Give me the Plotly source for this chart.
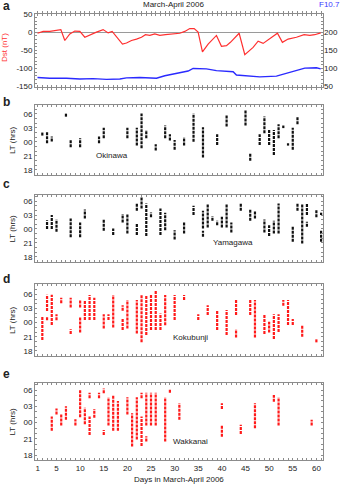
import plotly.graph_objects as go

# ---------------- data ----------------
dst_day = [0.98, 2.18, 3.59, 5.0, 5.92, 6.76, 7.82, 8.88, 9.94, 10.99, 12.05, 13.46, 14.87, 15.93,
           16.78, 18.96, 19.81, 20.87, 21.93, 22.98, 23.83, 24.75, 25.80, 26.86, 28.06, 29.33,
           31.09, 32.15, 33.21, 34.13, 34.97, 35.89, 37.09, 38.85, 39.91, 40.97, 41.81, 43.65,
           44.85, 46.61, 47.67, 48.73, 50.0, 51.76, 52.81, 54.01, 55.78, 57.40, 58.60, 59.65, 60.92]
dst_val = [-3, 2, 2, 4, 7, -23, -5, 3, 2, -14, -7, 0, 7, -2,
           2, -33, -30, -23, -19, -14, -7, -9, -5, -9, -7, -5,
           -3, 2, 10, 10, 0, -54, -33, -9, -39, -37, -28, -3,
           -62, -42, -25, -31, -19, -3, -28, -19, -14, -7, -9, -7, -2]

f107_day = [0.98, 3.59, 7.12, 9.94, 12.76, 15.58, 18.40, 19.81, 22.63, 26.16, 27.92, 29.68, 31.80,
            32.86, 33.91, 36.73, 38.85, 40.97, 42.38, 43.08, 45.20, 48.02, 51.55, 53.66, 55.78,
            57.54, 60.01, 60.92]
f107_val = [75, 73, 73, 71, 72, 70, 71, 74, 75, 73, 80, 84, 89,
            93, 100, 99, 94, 91, 91, 82, 80, 77, 79, 87, 95,
            101, 102, 99]

# Okinawa: day, LT start, LT end (hours; >24 = after midnight)
oki_day = [2, 3, 4, 7, 8, 10, 14, 15, 20, 22, 23, 24, 26, 28, 29, 30, 32, 34, 36, 39, 41, 45, 46,
           48, 49, 50, 51, 52, 53, 54, 55, 56]
oki_lo = [25.35, 23.7, 24.1, 29.4, 22.85, 22.85, 23.7, 24.8, 24.8, 23.2, 22.65, 24.8, 22.15, 24.8,
          24.3, 22.3, 23.2, 24.05, 20.65, 23.35, 27.3, 27.5, 19.95, 23.35, 25.85, 23.35, 21.2,
          24.8, 26.95, 23.2, 22.3, 27.8]
oki_hi = [26.1, 26.1, 25.15, 30.1, 24.4, 24.8, 25.15, 27.05, 27.05, 27.05, 30.1, 26.55, 23.5, 27.5,
          25.65, 24.4, 25.0, 30.1, 27.15, 25.65, 29.65, 30.85, 21.55, 25.65, 29.45, 26.55, 26.55,
          27.8, 27.5, 23.7, 27.05, 29.45]

# Yamagawa
yam_day = [3, 4, 5, 8, 10, 11, 15, 17, 19, 20, 22, 22, 23, 24, 25, 27, 28, 30, 32, 34, 36, 36, 37,
           38, 39, 40, 41, 42, 44, 46, 47, 49, 50, 51, 52, 55, 56, 57, 58, 58, 60, 61, 61]
yam_lo = [24.0, 24.0, 23.4, 22.2, 22.2, 26.25, 23.6, 22.7, 25.4, 23.05, 27.9, 22.7, 28.4, 22.5,
          26.5, 22.7, 23.75, 21.75, 23.05, 27.0, 24.1, 22.3, 24.3, 25.75, 24.8, 24.3, 24.3, 23.25,
          27.9, 25.75, 26.25, 23.25, 22.5, 23.05, 23.05, 21.25, 27.9, 20.9, 27.0, 24.45, 26.5,
          27.0, 21.25]
yam_hi = [25.9, 27.0, 26.05, 26.25, 25.4, 28.2, 26.05, 24.1, 27.2, 27.2, 29.65, 25.05, 30.9, 29.5,
          27.55, 28.4, 27.5, 23.75, 25.4, 29.0, 27.9, 23.6, 29.5, 26.75, 25.75, 26.6, 29.5, 25.4,
          29.5, 28.2, 27.9, 26.05, 24.8, 25.75, 29.5, 24.7, 29.5, 29.5, 29.5, 25.55, 28.05,
          27.5, 23.75]

# Kokubunji
kok_day = [2, 3, 3, 4, 5, 6, 8, 8, 10, 10, 11, 12, 13, 15, 16, 17, 19, 19, 20, 22, 23, 24, 25, 26,
           27, 28, 30, 32, 35, 37, 39, 41, 43, 43, 46, 47, 49, 50, 51, 52, 53, 54, 55, 57, 60]
kok_lo = [20.3, 26.45, 24.5, 23.5, 24.5, 28.1, 27.2, 21.55, 27.2, 21.9, 24.55, 24.55, 24.55, 22.75,
          24.55, 22.95, 26.5, 22.4, 22.75, 21.7, 19.8, 21.35, 22.4, 22.4, 22.4, 23.45, 24.55, 28.8,
          24.55, 25.6, 22.4, 21.35, 25.6, 20.85, 25.6, 20.85, 21.55, 21.9, 20.5, 22.0, 27.6,
          23.5, 23.5, 21.0, 19.8]
kok_hi = [25.4, 29.9, 25.2, 29.9, 25.75, 29.3, 29.3, 22.6, 28.8, 25.25, 28.8, 29.85, 29.3, 25.75,
          25.75, 29.85, 27.7, 24.75, 28.8, 28.8, 29.85, 29.85, 29.85, 30.9, 25.95, 29.85, 29.85,
          29.85, 25.75, 27.7, 26.65, 26.65, 28.8, 22.6, 28.8, 28.8, 25.75, 24.2, 25.75, 25.75,
          28.8, 28.8, 24.75, 23.45, 20.5]

# Wakkanai
wak_day = [4, 5, 6, 7, 9, 10, 11, 12, 12, 13, 14, 15, 15, 16, 17, 18, 20, 21, 22, 23, 23, 24, 24,
           25, 26, 28, 29, 31, 40, 40, 44, 47, 51, 52, 59]
wak_lo = [22.5, 25.5, 23.45, 24.5, 23.45, 25.0, 23.7, 28.5, 21.7, 24.9, 28.5, 29.4, 21.7, 23.45,
          22.5, 22.5, 25.5, 19.6, 20.9, 28.5, 19.7, 23.45, 20.5, 23.45, 23.45, 20.5, 29.5, 24.5,
          26.5, 21.4, 21.9, 22.95, 27.85, 23.45, 23.45]
wak_hi = [25.1, 26.6, 25.5, 27.0, 24.6, 30.0, 26.75, 29.5, 25.1, 26.5, 29.5, 30.3, 22.65, 28.65,
          29.1, 28.0, 28.65, 25.7, 28.65, 29.5, 25.1, 29.5, 21.5, 29.5, 29.5, 28.65, 30.1, 27.55,
          27.55, 23.6, 23.6, 27.55, 29.1, 28.65, 24.5]

lt_tickvals = [18, 21, 24, 27, 30]
lt_ticktext = ["18", "21", "00", "03", "06"]
day_tickvals = [1, 5, 10, 15, 20, 25, 30, 35, 40, 45, 50, 55, 60]
# ---------------------------------------

W, H = 343, 485
FONT = "Liberation Sans, Arial, sans-serif"
FRAME = "#8c8c8c"
TXT = "#222222"


def px(x):
    return x / W


def py(y):
    return 1 - y / H


XDOM = [px(35), px(323)]
XRANGE = [0.45, 61.4]

fig = go.Figure()

# panel a
fig.add_trace(go.Scatter(x=dst_day, y=dst_val, mode="lines", line=dict(color="#ff3030", width=1.2),
                         xaxis="x", yaxis="y", showlegend=False))
fig.add_trace(go.Scatter(x=f107_day, y=f107_val, mode="lines", line=dict(color="#2a2aff", width=1.4),
                         xaxis="x", yaxis="y6", showlegend=False))


def segs(days, lo, hi):
    xs, ys = [], []
    for d, a, b in zip(days, lo, hi):
        xs += [d, d, None]
        ys += [a, b, None]
    return xs, ys


stations = [
    (oki_day, oki_lo, oki_hi, "#111111", 2),
    (yam_day, yam_lo, yam_hi, "#111111", 3),
    (kok_day, kok_lo, kok_hi, "#ff1a1a", 4),
    (wak_day, wak_lo, wak_hi, "#ff1a1a", 5),
]
for d, lo, hi, col, k in stations:
    xs, ys = segs(d, lo, hi)
    fig.add_trace(go.Scatter(x=xs, y=ys, mode="lines", connectgaps=False,
                             line=dict(color=col, width=2.2, dash="3px,1px"),
                             xaxis=f"x{k}", yaxis=f"y{k}", showlegend=False))

all_days = list(range(1, 62))
day_text = [str(d) if d in day_tickvals else "" for d in all_days]


def xaxis(anchor, labels):
    return dict(domain=XDOM, range=XRANGE, anchor=anchor, showgrid=False, zeroline=False,
                showline=True, linecolor=FRAME, linewidth=1, mirror="allticks",
                ticks="inside", ticklen=2, tickcolor=FRAME, tickwidth=1,
                tickmode="array", tickvals=all_days,
                ticktext=day_text if labels else [""] * len(all_days),
                showticklabels=labels, tickfont=dict(size=8, color=TXT, family=FONT))


lt_all = list(range(17, 33))
lt_text = [lt_ticktext[lt_tickvals.index(v)] if v in lt_tickvals else "" for v in lt_all]


def ltaxis(anchor, dom, rng):
    return dict(domain=dom, range=rng, anchor=anchor, showgrid=False, zeroline=False,
                showline=True, linecolor=FRAME, linewidth=1, mirror="allticks",
                ticks="inside", ticklen=2, tickcolor=FRAME, tickwidth=1,
                tickmode="array", tickvals=lt_all, ticktext=lt_text,
                tickfont=dict(size=8, color=TXT, family=FONT))


doms = {
    1: [py(87), py(14)],
    2: [py(175), py(105)],
    3: [py(262), py(195)],
    4: [py(356), py(284)],
    5: [py(460), py(383)],
}

dst_all = list(range(-150, 51, 10))
dst_text = [str(v) if v % 50 == 0 else "" for v in dst_all]
f_all = list(range(50, 251, 10))
f_text = [str(v) if v in (50, 100, 150, 200) else "" for v in f_all]

layout = dict(
    width=W, height=H, margin=dict(l=0, r=0, t=0, b=0, autoexpand=False),
    paper_bgcolor="white", plot_bgcolor="white", showlegend=False,
    font=dict(family=FONT, size=8, color=TXT),
    xaxis=xaxis("y", False),
    yaxis=dict(domain=doms[1], range=[-151, 50], anchor="x", showgrid=False,
               zeroline=True, zerolinecolor="#9a9a9a", zerolinewidth=1.2,
               showline=True, linecolor=FRAME, mirror="allticks", ticks="inside", ticklen=2,
               tickcolor=FRAME, tickmode="array", tickvals=dst_all, ticktext=dst_text,
               tickfont=dict(size=8, color=TXT, family=FONT)),
    yaxis6=dict(range=[49, 250], overlaying="y", side="right", anchor="x", showgrid=False,
                zeroline=False, showline=False, ticks="", tickmode="array", tickvals=f_all,
                ticktext=f_text, tickfont=dict(size=8, color=TXT, family=FONT)),
)
for k in range(2, 6):
    layout[f"xaxis{k}"] = xaxis(f"y{k}", k == 5)
layout["yaxis2"] = ltaxis("x2", doms[2], [16.9, 31.9])
layout["yaxis3"] = ltaxis("x3", doms[3], [16.9, 31.3])
layout["yaxis4"] = ltaxis("x4", doms[4], [16.9, 32.2])
layout["yaxis5"] = ltaxis("x5", doms[5], [17.1, 31.3])
fig.update_layout(**layout)

ann = []


def text(x, y, s, size=8, color=TXT, xa="center", angle=0, bold=False):
    ann.append(dict(x=px(x), y=py(y), xref="paper", yref="paper", text=f"<b>{s}</b>" if bold else s,
                    showarrow=False, xanchor=xa, yanchor="middle", textangle=angle,
                    font=dict(size=size, color=color, family=FONT)))


text(173, 5, "March-April 2006", size=8)
text(342, 5, "F10.7", size=8, color="#3a3aff", xa="right")
text(1, 6, "a", size=12, xa="left", bold=True)
text(1, 102, "b", size=12, xa="left", bold=True)
text(1, 184, "c", size=12, xa="left", bold=True)
text(1, 279, "d", size=12, xa="left", bold=True)
text(1, 374, "e", size=12, xa="left", bold=True)
text(5, 48, "Dst (nT)", size=8, color="#ff3030", angle=-90)
for top, bot in [(105, 175), (195, 262), (284, 356), (383, 460)]:
    text(12, (top + bot) / 2, "LT (hrs)", size=8, angle=-90)
text(112, 156, "Okinawa", size=8)
text(233, 242, "Yamagawa", size=8)
text(190, 337, "Kokubunji", size=8)
text(190, 441, "Wakkanai", size=8)
text(179, 479, "Days in March-April 2006", size=8)
fig.update_layout(annotations=ann)

fig.write_html("out.html", config={"displayModeBar": False},
               post_script="document.body.style.margin='0';document.body.style.overflow='hidden';")
